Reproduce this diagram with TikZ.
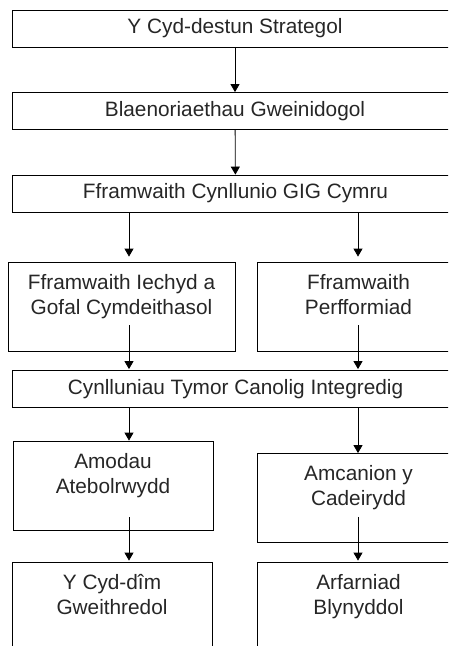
\documentclass[tikz,border=0pt]{standalone}
\usepackage{fontspec}
\setmainfont{Liberation Sans}
\usetikzlibrary{arrows.meta, calc, positioning}

\begin{document}
\begin{tikzpicture}[x=1pt, y=-1pt, line width=0.8pt,
    box/.style={draw, rectangle, inner sep=0pt, align=center,
        font=\fontsize{20.8}{25}\selectfont, text=black!85},
    wide/.style={box, minimum width=446pt, minimum height=37pt},
    tall/.style={box, minimum width=#1, minimum height=89pt},
    arr/.style={-{Triangle[width=9pt,length=8pt]}}]
    \useasboundingbox (0,0) rectangle (448,646);
    \clip (0,0) rectangle (448,646);
    % columns for the arrows
    \coordinate (cl) at (129,0);
    \coordinate (cr) at (358,0);
    % boxes
    \node[wide] (strat) at (235,28.5) {Y Cyd-destun Strategol};
    \node[wide] (blaen) at (235,111) {Blaenoriaethau Gweinidogol};
    \node[wide] (ffcyn) at (235.5,193.5) {Fframwaith Cynllunio GIG Cymru};
    \node[tall=227pt] (iechyd) at (121.5,306.5) {Fframwaith Iechyd a\\Gofal Cymdeithasol\\\mbox{}};
    \node[tall=203pt] (perff) at (358.5,306.5) {Fframwaith\\Perfformiad\\\mbox{}};
    \node[wide] (ctci) at (235.5,389) {Cynlluniau Tymor Canolig Integredig};
    \node[tall=200pt] (amodau) at (113,485.5) {Amodau\\Atebolrwydd\\\mbox{}};
    \node[tall=203pt] (amcan) at (358.5,498) {Amcanion y\\Cadeirydd\\\mbox{}};
    \node[tall=200pt] (cydim) at (112,606.5) {Y Cyd-dîm\\Gweithredol\\\mbox{}};
    \node[tall=203pt] (arfarn) at (358.5,606.5) {Arfarniad\\Blynyddol\\\mbox{}};
    % arrows
    \draw[arr] (strat) -- (blaen);
    \draw[arr] (blaen) -- (ffcyn);
    \draw[arr, shorten >=5pt] (ffcyn.south -| cl) -- (iechyd.north -| cl);
    \draw[arr, shorten >=5pt] (ffcyn.south -| cr) -- (perff.north -| cr);
    \draw[arr, shorten >=1pt] ([yshift=26pt]iechyd.south -| cl) -- (ctci.north -| cl);
    \draw[arr, shorten >=1pt] ([yshift=26pt]perff.south -| cr) -- (ctci.north -| cr);
    \draw[arr] (ctci.south -| cl) -- (amodau.north -| cl);
    \draw[arr] (ctci.south -| cr) -- (amcan.north -| cr);
    \draw[arr, shorten >=1pt] ([yshift=13pt]amodau.south -| cl) -- (cydim.north -| cl);
    \draw[arr, shorten >=1pt] ([yshift=26pt]amcan.south -| cr) -- (arfarn.north -| cr);
\end{tikzpicture}
\end{document}
